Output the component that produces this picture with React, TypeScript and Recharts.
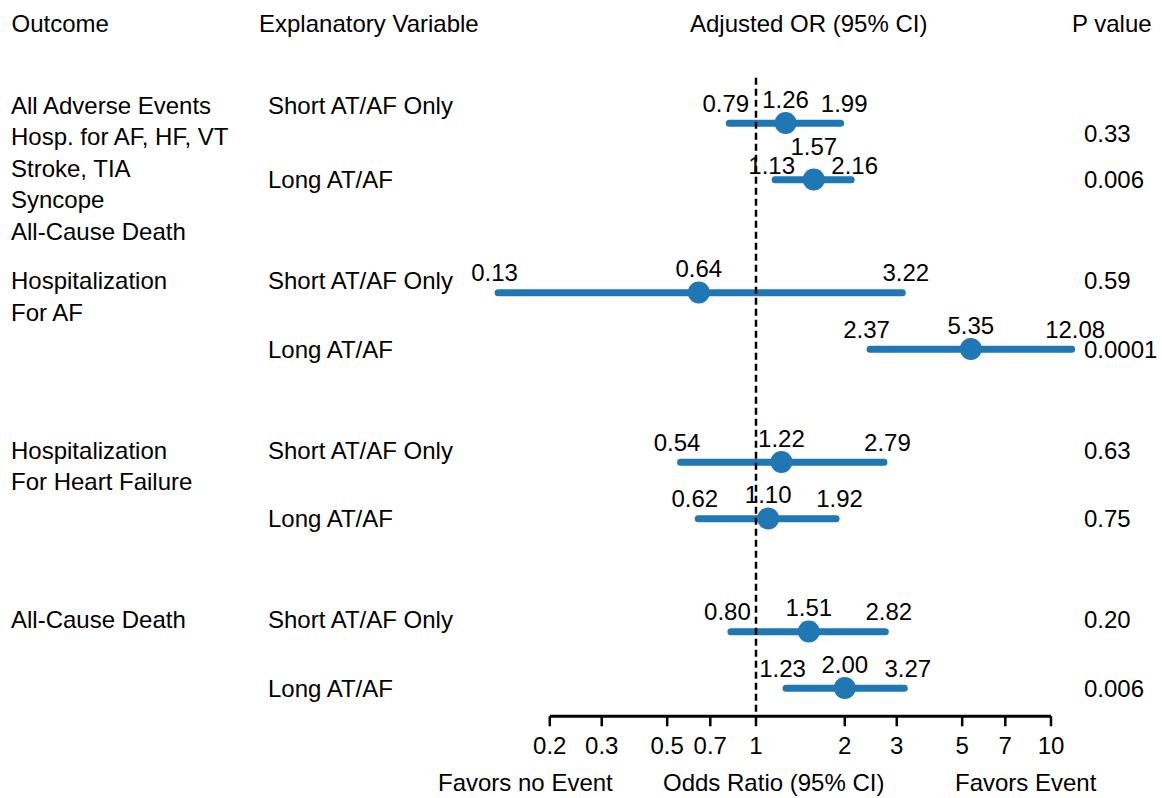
import {
  ComposedChart,
  Bar,
  Line,
  XAxis,
  YAxis,
  ReferenceLine,
  ReferenceArea,
  LabelList,
} from "recharts";

// outcome groups, each with a short and a long AT/AF row
const outcomes = [
  ["All Adverse Events", "Hosp. for AF, HF, VT", "Stroke, TIA", "Syncope", "All-Cause Death"],
  ["Hospitalization", "For AF"],
  ["Hospitalization", "For Heart Failure"],
  ["All-Cause Death"],
];
const variables = ["Short AT/AF Only", "Long AT/AF"];

const estimates = [1.26, 1.57, 0.64, 5.35, 1.22, 1.1, 1.51, 2.0];
const lowerCI = [0.79, 1.13, 0.13, 2.37, 0.54, 0.62, 0.8, 1.23];
const upperCI = [1.99, 2.16, 3.22, 12.08, 2.79, 1.92, 2.82, 3.27];
const pValues = ["0.33", "0.006", "0.59", "0.0001", "0.63", "0.75", "0.20", "0.006"];

const orTicks = [0.2, 0.3, 0.5, 0.7, 1, 2, 3, 5, 7, 10];

const headers = ["Outcome", "Explanatory Variable", "Adjusted OR (95% CI)", "P value"];
const footers = ["Favors no Event", "Odds Ratio (95% CI)", "Favors Event"];

type Row = {
  key: string;
  outcome?: string[];
  variable?: string;
  first?: boolean;
  est: number | null;
  lo: number | null;
  hi: number | null;
  ci: [number, number] | null;
  p?: string;
};

// one row per estimate, with an empty spacer row between outcome groups
const table: Row[] = [];
outcomes.forEach((outcome, g) => {
  if (g > 0) table.push({ key: `gap${g}`, est: null, lo: null, hi: null, ci: null });
  variables.forEach((variable, v) => {
    const i = g * variables.length + v;
    table.push({
      key: `row${i}`,
      outcome: v === 0 ? outcome : undefined,
      variable,
      first: v === 0,
      est: estimates[i],
      lo: lowerCI[i],
      hi: upperCI[i],
      ci: [lowerCI[i], upperCI[i]],
      p: pValues[i],
    });
  });
});

const FONT = 24;
const BLUE = "#1f77b4";
const FAMILY = '"Liberation Sans", Arial, Helvetica, sans-serif';
// rows where the estimate label sits higher to clear the CI labels
const LIFTED = new Set(["row1", "row7"]);
// small vertical nudges for the first block of text, as in the original layout
const TEXT_NUDGE: Record<string, number> = { row0: -6 };
const P_NUDGE: Record<string, number> = { row0: 28 };

function valueLabel(kind: "lo" | "hi" | "est") {
  return (props: any) => {
    const { value, index } = props;
    if (value == null) return null;
    const vb = props.viewBox ?? {};
    const x = props.x ?? vb.x;
    const y = props.y ?? vb.y;
    const lifted = LIFTED.has(table[index]?.key);
    let rise = kind === "est" ? 24 : 20;
    if (lifted) rise = kind === "est" ? 33 : 14.5;
    return (
      <text x={x} y={y - rise + 8.6} textAnchor="middle" fontSize={FONT} fill="#000">
        {Number(value).toFixed(2)}
      </text>
    );
  };
}

function RowTick(props: any) {
  const { y, payload } = props;
  const row = table.find((r) => r.key === payload?.value);
  if (!row || !row.variable) return <g />;
  const base = y + (row.first ? -12 : 0) + 8.6 + (TEXT_NUDGE[row.key] ?? 0);
  return (
    <g>
      {row.outcome?.map((line, k) => (
        <text key={k} x={11} y={base + k * 31.5} fontSize={FONT} fill="#000">
          {line}
        </text>
      ))}
      <text x={268} y={base} fontSize={FONT} fill="#000">
        {row.variable}
      </text>
      <text x={1084} y={base + (P_NUDGE[row.key] ?? 0)} fontSize={FONT} fill="#000">
        {row.p}
      </text>
    </g>
  );
}

const textStyle = {
  position: "absolute" as const,
  fontSize: FONT,
  lineHeight: "24px",
  whiteSpace: "nowrap" as const,
  color: "#000",
};

export default function App() {
  const headerX = [11.5, 259, 690, 1072];
  const footerX = [438, 663, 955];
  return (
    <div
      style={{
        position: "absolute",
        left: 0,
        top: 0,
        width: 1162,
        height: 798,
        fontFamily: FAMILY,
        background: "#fff",
      }}
    >
      <ComposedChart
        width={1162}
        height={798}
        layout="vertical"
        data={table}
        margin={{ top: 94.75, right: 86.8, bottom: 41.75, left: 434.6 }}
      >
        <XAxis
          type="number"
          scale="log"
          domain={["dataMin", "dataMax"]}
          ticks={orTicks}
          interval={0}
          axisLine={false}
          tickLine={{ stroke: "#000", strokeWidth: 2.5 }}
          tickSize={10}
          tickMargin={11}
          tick={{ fill: "#000", fontSize: FONT }}
          height={40}
        />
        <YAxis
          type="category"
          dataKey="key"
          width={60}
          axisLine={false}
          tickLine={false}
          interval={0}
          tick={(p: any) => <RowTick {...p} />}
        />
        <ReferenceArea
          x1={0.2}
          x2={10}
          fillOpacity={0}
          shape={(p: any) => (
            <line
              x1={p.x}
              x2={p.x + p.width}
              y1={p.y + p.height}
              y2={p.y + p.height}
              stroke="#000"
              strokeWidth={3}
            />
          )}
        />
        <ReferenceLine
          x={1}
          stroke="#000"
          strokeWidth={2.5}
          strokeDasharray="7 4"
          shape={(p: any) => (
            <line
              x1={p.x1}
              x2={p.x2}
              y1={Math.min(p.y1, p.y2) - 17}
              y2={Math.max(p.y1, p.y2)}
              stroke="#000"
              strokeWidth={2.5}
              strokeDasharray="7 4"
            />
          )}
        />
        <Bar dataKey="ci" barSize={7} fill={BLUE} radius={3.5} isAnimationActive={false} />
        <Line dataKey="lo" stroke="none" dot={false} activeDot={false} isAnimationActive={false}>
          <LabelList dataKey="lo" content={valueLabel("lo")} />
        </Line>
        <Line dataKey="hi" stroke="none" dot={false} activeDot={false} isAnimationActive={false}>
          <LabelList dataKey="hi" content={valueLabel("hi")} />
        </Line>
        <Line
          dataKey="est"
          stroke="none"
          dot={{ r: 11, fill: BLUE, stroke: "none" }}
          activeDot={false}
          isAnimationActive={false}
        >
          <LabelList dataKey="est" content={valueLabel("est")} />
        </Line>
      </ComposedChart>
      {headers.map((h, i) => (
        <div key={h} style={{ ...textStyle, left: headerX[i], top: 12 }}>
          {h}
        </div>
      ))}
      {footers.map((f, i) => (
        <div key={f} style={{ ...textStyle, left: footerX[i], top: 771 }}>
          {f}
        </div>
      ))}
    </div>
  );
}
